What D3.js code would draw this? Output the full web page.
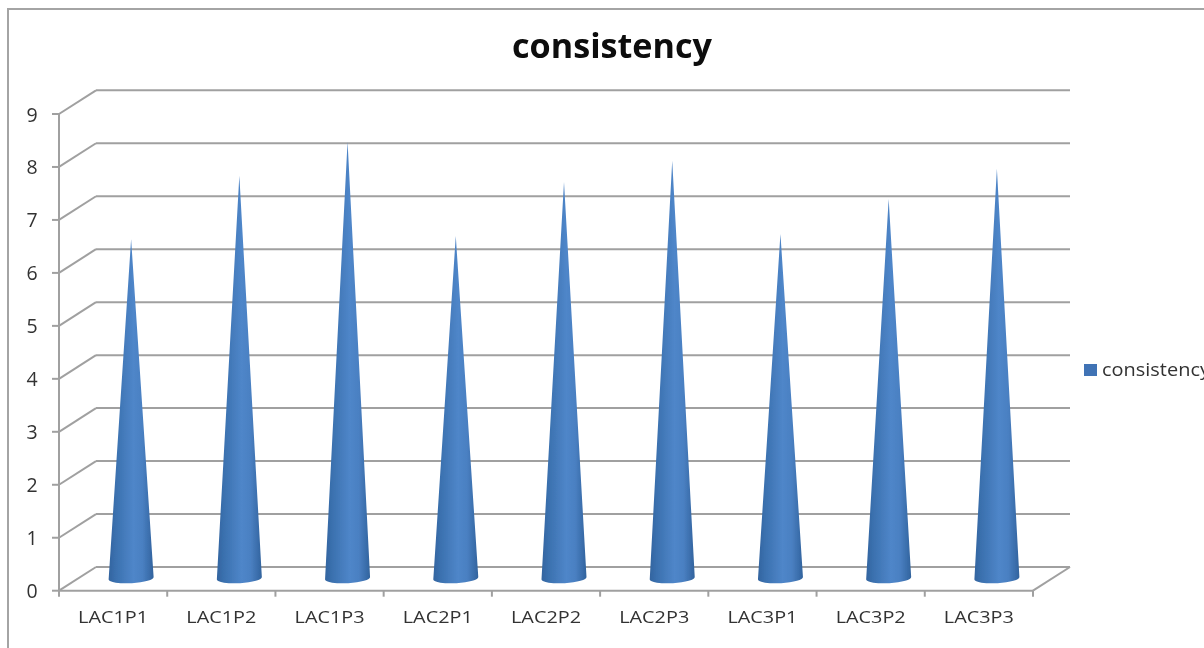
<!DOCTYPE html>
<html><head><meta charset="utf-8">
<script src="https://cdnjs.cloudflare.com/ajax/libs/d3/7.8.5/d3.min.js"></script>
<style>html,body{margin:0;padding:0;background:#fff;overflow:hidden}svg{display:block}text{font-family:"Open Sans",sans-serif}</style>
</head><body><svg id="c" width="1204" height="648"></svg>
<script>
const categories=["LAC1P1","LAC1P2","LAC1P3","LAC2P1","LAC2P2","LAC2P3","LAC3P1","LAC3P2","LAC3P3"];
const values=[6.4,7.6,8.24,6.46,7.48,7.88,6.5,7.16,7.73];
const yTicks=[0,1,2,3,4,5,6,7,8,9];
const seriesName="consistency";
const titleText="consistency";
const svg=d3.select("#c");
const defs=svg.append("defs");
defs.append("filter").attr("id","soft").attr("x",0).attr("y",0).attr("width","100%").attr("height","100%").append("feGaussianBlur").attr("stdDeviation",0.6);
const g=defs.append("linearGradient").attr("id","cone");
[[0,"#33649f"],[0.15,"#3a70ae"],[0.55,"#4f86c9"],[0.75,"#4a80c2"],[0.93,"#386ba8"],[1,"#32639c"]].forEach(s=>g.append("stop").attr("offset",s[0]).attr("stop-color",s[1]));
const root=svg.append("g").attr("filter","url(#soft)");
root.append("rect").attr("width",1204).attr("height",648).attr("fill","#fff");
const dx=37,dy=-23.7;
const y=d3.scaleLinear().domain([0,9]).range([590.7,114]);
const x=d3.scaleBand().domain(categories).range([59,1033]);
const grey="#a0a0a0";
root.append("path").attr("d","M8 660V9H1215").attr("fill","none").attr("stroke","#a4a4a4").attr("stroke-width",2);
const line=(a,b,c,d,w=2)=>root.append("line").attr("x1",a).attr("y1",b).attr("x2",c).attr("y2",d).attr("stroke",grey).attr("stroke-width",w);
yTicks.forEach(t=>{
  const v=y(t);
  line(59,v,59+dx,v+dy);
  line(59+dx,v+dy,1033+dx,v+dy);
  line(52,v,59,v);
  root.append("text").attr("x",32).attr("y",v+7.5).attr("text-anchor","middle").attr("font-size",19.5).attr("fill","#333").text(t);
});
line(59,y(0),59,y(9));
line(59,y(0),1033,y(0));
line(1033,y(0),1033+dx,y(0)+dy);
[...categories.map(c=>x(c)),1033].forEach(v=>line(v,y(0),v,y(0)+6));
const base=y(0)-12.5,rx=22.5,ry=5,tilt=1.3;
categories.forEach((c,i)=>{
  const cx=x(c)+x.bandwidth()/2+18;
  const top=base-(y(0)-y(values[i]));
  root.append("path")
    .attr("d",`M${cx} ${top}L${cx+rx} ${base-tilt}A${rx} ${ry} -3 0 1 ${cx-rx} ${base+tilt}Z`)
    .attr("fill","url(#cone)");
  root.append("text").attr("x",cx-53).attr("y",623).attr("text-anchor","start").attr("font-size",17)
    .attr("textLength",70).attr("lengthAdjust","spacingAndGlyphs").attr("fill","#333").text(c);
});
root.append("text").attr("x",512).attr("y",58).attr("text-anchor","start").attr("font-size",33.5).attr("font-weight",700)
  .attr("textLength",200).attr("lengthAdjust","spacingAndGlyphs").attr("fill","#0a0a0a").text(titleText);
root.append("rect").attr("x",1084).attr("y",364).attr("width",13).attr("height",12).attr("fill","#3f73b5");
root.append("text").attr("x",1102).attr("y",376).attr("font-size",18).attr("textLength",108).attr("lengthAdjust","spacingAndGlyphs").attr("fill","#333").text(seriesName);
</script></body></html>
